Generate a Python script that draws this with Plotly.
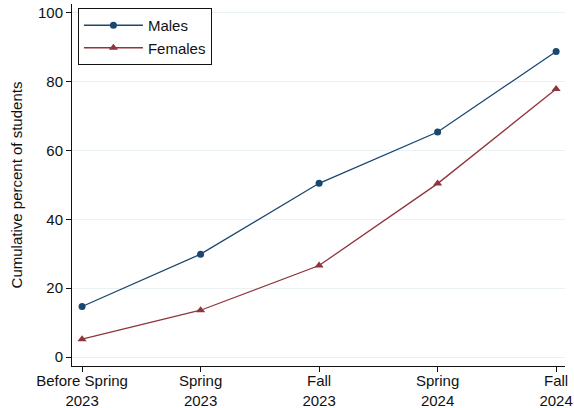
import plotly.graph_objects as go

# survey waves (x axis categories)
waves = ["Before Spring<br>2023", "Spring<br>2023", "Fall<br>2023", "Spring<br>2024", "Fall<br>2024"]

# cumulative percent of students
males = [14.7, 29.9, 50.5, 65.4, 88.8]
females = [5.2, 13.6, 26.6, 50.4, 77.9]

y_ticks = [0, 20, 40, 60, 80, 100]

fig = go.Figure()
fig.add_trace(go.Scatter(x=list(range(len(waves))), y=males, name="Males",
                         mode="lines+markers",
                         line=dict(color="#1a476f", width=1.3),
                         marker=dict(symbol="circle", size=7, color="#1a476f")))
fig.add_trace(go.Scatter(x=list(range(len(waves))), y=females, name="Females",
                         mode="lines+markers",
                         line=dict(color="#90353b", width=1.3),
                         marker=dict(symbol="triangle-up", size=8, color="#90353b")))

fig.update_layout(
    width=574, height=408,
    margin=dict(l=72, r=9, t=4, b=42),
    paper_bgcolor="white", plot_bgcolor="white",
    font=dict(family="Liberation Sans, Arial, sans-serif", size=15, color="#111111"),
    showlegend=True,
    legend=dict(x=0.012, y=0.989, xanchor="left", yanchor="top",
                bordercolor="#111111", borderwidth=1, bgcolor="white",
                font=dict(size=15), itemwidth=59, tracegroupgap=0),
)
fig.update_xaxes(
    range=[-0.085, 4.075], automargin=False,
    tickmode="array", tickvals=list(range(len(waves))), ticktext=waves,
    showgrid=False, zeroline=False,
    showline=True, linecolor="#111111", linewidth=1,
    ticks="outside", ticklen=5, tickcolor="#111111",
    ticklabelstandoff=-4,
)
fig.update_yaxes(
    range=[-2.6, 102.6], automargin=False,
    tickmode="array", tickvals=y_ticks,
    title=dict(text="Cumulative percent of students", font=dict(size=15), standoff=11),
    showgrid=True, gridcolor="#eaf2f3", gridwidth=1, zeroline=False,
    showline=True, linecolor="#111111", linewidth=1,
    ticks="outside", ticklen=5, tickcolor="#111111",
)

# drop the browser's default body margin so the figure sits at the page corner
fig.write_html("out.html", config={"displayModeBar": False},
               post_script="document.body.style.margin='0';")
